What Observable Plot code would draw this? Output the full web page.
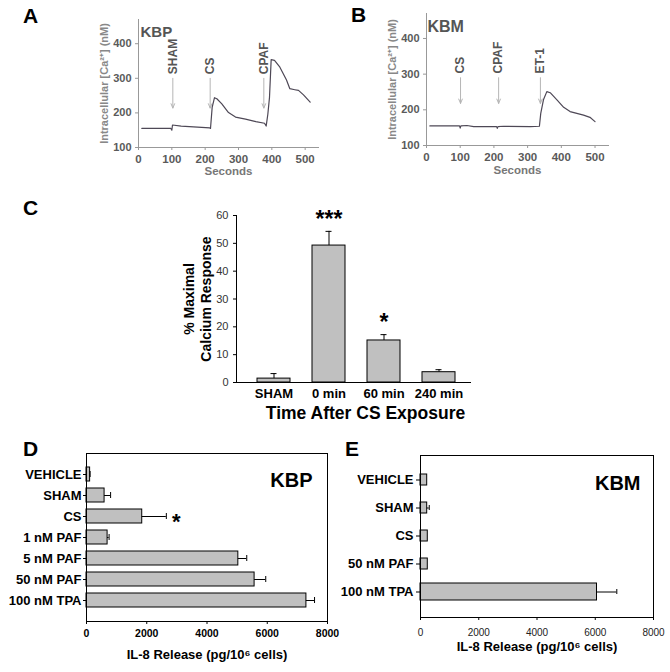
<!DOCTYPE html>
<html><head><meta charset="utf-8">
<script src="https://cdn.jsdelivr.net/npm/d3@7"></script>
<script src="https://cdn.jsdelivr.net/npm/@observablehq/plot@0.6"></script>
<style>
body{margin:0;background:#fff;}
#fig{position:relative;width:670px;height:672px;overflow:hidden;font-family:"Liberation Sans",Arial,sans-serif;background:#fff;}
.panel{position:absolute;}
.panel svg{overflow:visible;background:transparent;}
.letter{position:absolute;font-weight:bold;font-size:21px;line-height:21px;color:#000;font-family:"Liberation Sans",Arial,sans-serif;}
</style></head>
<body>
<div id="fig">
  <div class="panel" id="pA" style="left:0;top:0"></div>
  <div class="panel" id="pB" style="left:330px;top:0"></div>
  <div class="panel" id="pC" style="left:150px;top:190px"></div>
  <div class="panel" id="pD" style="left:0;top:430px"></div>
  <div class="panel" id="pE" style="left:335px;top:430px"></div>
  <div class="letter" style="left:23px;top:5px">A</div>
  <div class="letter" style="left:351px;top:4px">B</div>
  <div class="letter" style="left:23px;top:197px">C</div>
  <div class="letter" style="left:23px;top:438px">D</div>
  <div class="letter" style="left:345px;top:438px">E</div>
</div>
<script>
// ---------- Panel A (KBP calcium trace) ----------
const aTime = [10, 97, 100, 102, 128, 214, 216, 221, 228, 235, 250, 270, 291, 321, 352, 378, 383, 388, 393, 398, 408, 423, 444, 454, 469, 480, 495, 515];
const aCa   = [155, 155, 150, 165, 162, 157, 155, 216, 244, 241, 226, 201, 188, 182, 175, 170, 162, 196, 245, 354, 352, 334, 295, 270, 267, 265, 252, 231];
const aEvents = ["SHAM", "CS", "CPAF"];
const aEventTime = [103, 215, 376];
const aXTicks = [0, 100, 200, 300, 400, 500];
const aYTicks = [100, 200, 300, 400];

// ---------- Panel B (KBM calcium trace) ----------
const bTime = [10, 98, 100, 102, 120, 140, 208, 210, 212, 229, 308, 335, 339, 347, 357, 367, 387, 407, 426, 466, 485, 500];
const bCa   = [155, 155, 149, 155, 156, 153, 153, 148, 153, 154, 153, 154, 190, 228, 251, 248, 228, 207, 195, 185, 179, 167];
const bEvents = ["CS", "CPAF", "ET-1"];
const bEventTime = [101, 214, 338];
const bXTicks = [0, 100, 200, 300, 400, 500];
const bYTicks = [100, 200, 300, 400];

// ---------- Panel C ----------
const cCats = ["SHAM", "0 min", "60 min", "240 min"];
const cMean = [1.4, 49.2, 15.1, 3.7];
const cSem  = [1.8, 5.1, 2.1, 0.9];
const cStars = ["", "***", "*", ""];
const cYTicks = [0, 10, 20, 30, 40, 50, 60];

// ---------- Panel D (KBP IL-8) ----------
const dCats = ["VEHICLE", "SHAM", "CS", "1 nM PAF", "5 nM PAF", "50 nM PAF", "100 nM TPA"];
const dMean = [120, 600, 1850, 700, 5040, 5580, 7300];
const dSem  = [0, 200, 800, 50, 280, 370, 270];
const dStars = ["", "", "*", "", "", "", ""];
const dXTicks = [0, 2000, 4000, 6000, 8000];

// ---------- Panel E (KBM IL-8) ----------
const eCats = ["VEHICLE", "SHAM", "CS", "50 nM PAF", "100 nM TPA"];
const eMean = [230, 230, 250, 250, 6060];
const eSem  = [0, 70, 0, 0, 680];
const eXTicks = [0, 2000, 4000, 6000, 8000];

const FONT = "'Liberation Sans', Arial, sans-serif";
const baseStyle = {fontFamily: FONT, background: "transparent", overflow: "visible"};

// --- A ---
const aLine = aTime.map((t, i) => ({t, c: aCa[i]}));
const aEv = aEvents.map((label, i) => ({label, t: aEventTime[i]}));
const plotA = Plot.plot({
  width: 330, height: 185,
  marginLeft: 138, marginRight: 12, marginTop: 19, marginBottom: 38,
  style: {...baseStyle, fontWeight: "bold", color: "#5a5a5a"},
  x: {domain: [0, 540]},
  y: {domain: [100, 470]},
  marks: [
    Plot.frame({anchor: "left", stroke: "#999"}),
    Plot.frame({anchor: "bottom", stroke: "#999"}),
    Plot.axisX({ticks: aXTicks, tickSize: 3, tickPadding: 4, fontSize: 11.5, label: null, stroke: "#999"}),
    Plot.axisY({ticks: aYTicks, tickSize: 3, tickPadding: 4, fontSize: 11, label: null, stroke: "#999"}),
    Plot.arrow(aEv, {x1: "t", x2: "t", y1: 300, y2: 214, stroke: "#b5b5b5", strokeWidth: 1, headLength: 7, headAngle: 45}),
    Plot.line(aLine, {x: "t", y: "c", stroke: "#4e4856", strokeWidth: 1.2}),
    Plot.text(aEv, {x: "t", y: 312, text: "label", rotate: -90, textAnchor: "start", fontSize: 12, fill: "#555"}),
    Plot.text(["KBP"], {frameAnchor: "top-left", dx: 2, dy: 7, textAnchor: "start", fontSize: 15, fill: "#555"}),
    Plot.text(["Seconds"], {frameAnchor: "bottom", dy: 27, fontSize: 11.5, fill: "#777"}),
    Plot.text(["Intracellular [Ca²⁺] (nM)"], {frameAnchor: "left", textAnchor: "middle", dx: -34, rotate: -90, fontSize: 11, fill: "#888"})
  ]
});
document.getElementById("pA").appendChild(plotA);

// --- B ---
const bLine = bTime.map((t, i) => ({t, c: bCa[i]}));
const bEv = bEvents.map((label, i) => ({label, t: bEventTime[i]}));
const plotB = Plot.plot({
  width: 340, height: 185,
  marginLeft: 96, marginRight: 62, marginTop: 13, marginBottom: 40,
  style: {...baseStyle, fontWeight: "bold", color: "#5a5a5a"},
  x: {domain: [0, 540]},
  y: {domain: [100, 470]},
  marks: [
    Plot.frame({anchor: "left", stroke: "#999"}),
    Plot.frame({anchor: "bottom", stroke: "#999"}),
    Plot.axisX({ticks: bXTicks, tickSize: 3, tickPadding: 4, fontSize: 11.5, label: null, stroke: "#999"}),
    Plot.axisY({ticks: bYTicks, tickSize: 3, tickPadding: 4, fontSize: 11, label: null, stroke: "#999"}),
    Plot.arrow(bEv, {x1: "t", x2: "t", y1: 290, y2: 218, stroke: "#b5b5b5", strokeWidth: 1, headLength: 7, headAngle: 45}),
    Plot.line(bLine, {x: "t", y: "c", stroke: "#4e4856", strokeWidth: 1.2}),
    Plot.text(bEv, {x: "t", y: 302, text: "label", rotate: -90, textAnchor: "start", fontSize: 12, fill: "#555"}),
    Plot.text(["KBM"], {frameAnchor: "top-left", dx: 1, dy: 7, textAnchor: "start", fontSize: 16, fill: "#555"}),
    Plot.text(["Seconds"], {frameAnchor: "bottom", dy: 28, fontSize: 11.5, fill: "#777"}),
    Plot.text(["Intracellular [Ca²⁺] (nM)"], {frameAnchor: "left", textAnchor: "middle", dx: -34, rotate: -90, fontSize: 11, fill: "#888"})
  ]
});
document.getElementById("pB").appendChild(plotB);

// --- C ---
const cData = cCats.map((cat, i) => ({cat, mean: cMean[i], top: cMean[i] + cSem[i], star: cStars[i]}));
const plotC = Plot.plot({
  width: 330, height: 240,
  marginLeft: 86, marginRight: 10, marginTop: 25, marginBottom: 48,
  style: {...baseStyle, color: "#000"},
  x: {domain: cCats, paddingInner: 0.4, paddingOuter: 0.2, insetLeft: 9.5, insetRight: 4.5},
  y: {domain: [0, 60]},
  marks: [
    Plot.barY(cData, {x: "cat", y: "mean", fill: "#c0c0c0", stroke: "#000", strokeWidth: 1}),
    Plot.ruleX(cData, {x: "cat", y1: "mean", y2: "top", stroke: "#000"}),
    Plot.tickY(cData, {x: "cat", y: "top", insetLeft: 13.5, insetRight: 13.5, stroke: "#000"}),
    Plot.text(cData.filter(d => d.star), {x: "cat", y: "top", text: "star", dy: -12, fontSize: 23, fontWeight: "bold"}),
    Plot.frame({anchor: "left"}),
    Plot.frame({anchor: "bottom"}),
    Plot.axisY({ticks: cYTicks, tickSize: 3, tickPadding: 5, fontSize: 11, label: null, fill: "#333"}),
    Plot.axisX({tickSize: 0, tickPadding: 6, fontSize: 13, fontWeight: "bold", label: null}),
    Plot.text(["% Maximal\nCalcium Response"], {frameAnchor: "left", textAnchor: "middle", rotate: -90, dx: -39.5, fontSize: 14, fontWeight: "bold", lineHeight: 1.2}),
    Plot.text(["Time After CS Exposure"], {frameAnchor: "bottom", dx: 12, dy: 36, fontSize: 17.5, fontWeight: "bold"})
  ]
});
document.getElementById("pC").appendChild(plotC);

// --- D ---
const dData = dCats.map((cat, i) => ({cat, mean: dMean[i], top: dMean[i] + dSem[i], star: dStars[i]}));
const plotD = Plot.plot({
  width: 335, height: 242,
  marginLeft: 86, marginRight: 8, marginTop: 23, marginBottom: 51,
  style: {...baseStyle, color: "#000"},
  x: {domain: [0, 8000]},
  y: {domain: dCats, paddingInner: 0.35, paddingOuter: 0.58},
  marks: [
    Plot.barX(dData, {y: "cat", x: "mean", fill: "#c0c0c0", stroke: "#000", strokeWidth: 1}),
    Plot.ruleY(dData, {y: "cat", x1: "mean", x2: "top", stroke: "#000"}),
    Plot.tickX(dData, {y: "cat", x: "top", insetTop: 4, insetBottom: 4, stroke: "#000"}),
    Plot.text(dData.filter(d => d.star), {y: "cat", x: "top", text: "star", dx: 10, dy: 5, fontSize: 22, fontWeight: "bold"}),
    Plot.frame({stroke: "#000"}),
    Plot.axisX({ticks: dXTicks, tickFormat: d => String(d), tickSize: 3, tickPadding: 5, fontSize: 10.5, fontWeight: "bold", label: null}),
    Plot.axisY({tickSize: 3, tickPadding: 2, fontSize: 13, fontWeight: "bold", label: null}),
    Plot.text(["KBP"], {frameAnchor: "top-right", dx: -15, dy: 19, textAnchor: "end", fontSize: 20, fontWeight: "bold"}),
    Plot.text(["IL-8 Release (pg/10⁶ cells)"], {frameAnchor: "bottom", dy: 37, fontSize: 13, fontWeight: "bold"})
  ]
});
document.getElementById("pD").appendChild(plotD);

// --- E ---
const eData = eCats.map((cat, i) => ({cat, mean: eMean[i], top: eMean[i] + eSem[i]}));
const plotE = Plot.plot({
  width: 335, height: 242,
  marginLeft: 85, marginRight: 17, marginTop: 25, marginBottom: 55,
  style: {...baseStyle, color: "#000"},
  x: {domain: [0, 8000]},
  y: {domain: eCats, paddingInner: 0.6, paddingOuter: 0.62},
  marks: [
    Plot.barX(eData, {filter: d => d.cat !== "100 nM TPA", y: "cat", x: "mean", fill: "#c0c0c0", stroke: "#000", strokeWidth: 1}),
    Plot.barX(eData, {filter: d => d.cat === "100 nM TPA", y: "cat", x: "mean", insetTop: -3, insetBottom: -3, fill: "#c0c0c0", stroke: "#000", strokeWidth: 1}),
    Plot.ruleY(eData, {y: "cat", x1: "mean", x2: "top", stroke: "#000"}),
    Plot.tickX(eData, {filter: d => d.top > d.mean, y: "cat", x: "top", insetTop: 3, insetBottom: 3, stroke: "#000"}),
    Plot.frame({stroke: "#000"}),
    Plot.axisX({ticks: eXTicks, tickFormat: d => String(d), tickSize: 3, tickPadding: 8, fontSize: 10, fontWeight: "normal", label: null, fill: "#222"}),
    Plot.axisY({tickSize: 4, tickPadding: 3, fontSize: 13, fontWeight: "bold", label: null}),
    Plot.text(["KBM"], {frameAnchor: "top-right", dx: -13, dy: 20, textAnchor: "end", fontSize: 20, fontWeight: "bold"}),
    Plot.text(["IL-8 Release (pg/10⁶ cells)"], {frameAnchor: "bottom", dy: 33, fontSize: 13, fontWeight: "bold"})
  ]
});
document.getElementById("pE").appendChild(plotE);
</script>
</body></html>
